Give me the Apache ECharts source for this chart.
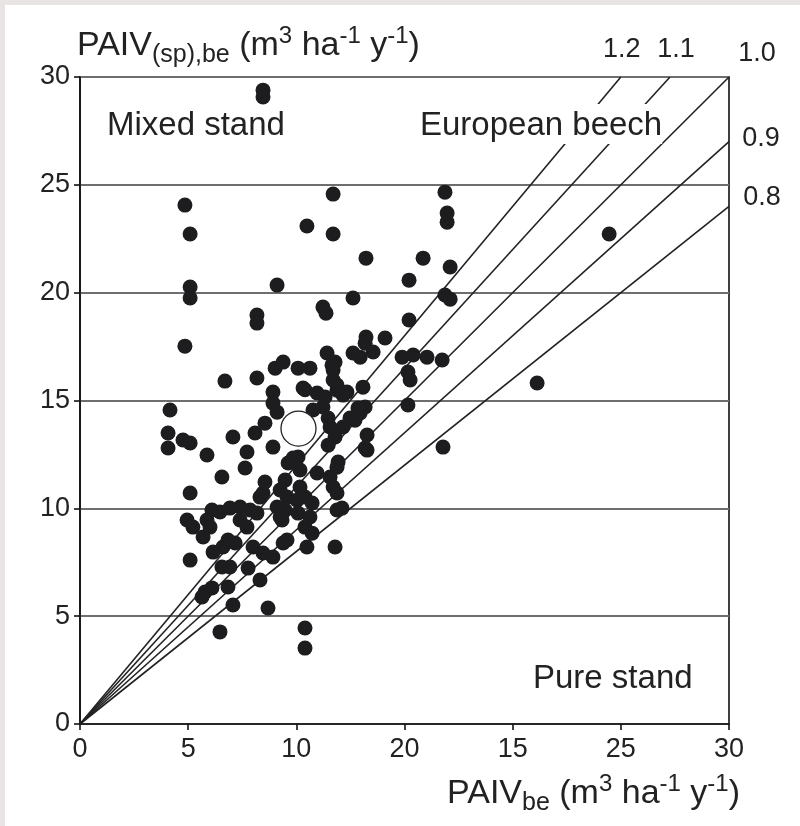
<!DOCTYPE html>
<html>
<head>
<meta charset="utf-8">
<title>PAIV mixed vs pure stand</title>
<script src="https://cdn.jsdelivr.net/npm/echarts@6/dist/echarts.min.js"></script>
<style>
  html, body { margin: 0; padding: 0; background: #ffffff; }
  #chart { width: 800px; height: 826px; }
</style>
</head>
<body>
<div id="chart"></div>
<script>
// tick labels as printed in the figure (x axis has "20" and "15" swapped)
const xTickLabels = ['0', '5', '10', '20', '15', '25', '30'];
const yTickLabels = ['0', '5', '10', '15', '20', '25', '30'];

// reference ratio lines  y = ratio * x
const ratios = [0.8, 0.9, 1.0, 1.1, 1.2];

// PAIV_be (x) vs PAIV_(sp),be (y), one dot per plot
const standPoints = [
  [8.46, 29.39], [8.46, 29.07], [4.85, 24.06], [5.09, 22.72], [5.09, 20.26], [5.09, 19.75],
  [4.85, 17.52], [6.70, 15.90], [8.18, 16.04], [8.18, 18.96], [8.18, 18.59], [9.11, 20.35],
  [10.49, 23.09], [11.70, 24.57], [11.70, 22.72], [11.23, 19.33], [11.37, 19.05], [11.42, 17.20],
  [9.02, 16.50], [9.39, 16.78], [10.08, 16.50], [10.63, 16.50], [8.92, 15.39], [10.31, 15.58],
  [10.96, 15.35], [11.33, 15.16], [11.70, 16.41], [11.70, 15.95], [13.22, 21.60], [15.86, 21.60],
  [16.87, 24.66], [16.97, 23.69], [16.97, 23.27], [17.11, 21.19], [15.21, 20.58], [12.62, 19.75],
  [16.87, 19.89], [17.11, 19.70], [15.21, 18.73], [13.22, 17.94], [13.18, 17.66], [13.55, 17.25],
  [14.10, 17.90], [12.62, 17.20], [12.95, 17.01], [11.79, 16.78], [14.89, 17.01], [15.40, 17.11],
  [16.04, 17.01], [16.74, 16.88], [15.16, 16.32], [15.26, 15.95], [15.16, 14.79], [16.78, 12.84],
  [11.88, 15.48], [12.16, 15.25], [13.08, 15.62], [13.18, 14.70], [12.95, 14.42], [12.71, 14.09],
  [13.27, 13.40], [13.27, 12.70], [21.13, 15.81], [24.46, 22.72], [10.77, 14.56], [11.23, 14.70],
  [11.47, 14.19], [11.56, 13.77], [11.79, 13.31], [11.47, 12.93], [12.85, 14.65], [12.48, 14.19],
  [12.16, 13.77], [13.18, 12.80], [11.93, 12.15], [11.88, 11.91], [9.80, 12.15], [10.08, 12.38],
  [10.17, 11.78], [10.96, 11.64], [9.48, 11.31], [9.57, 10.52], [9.48, 9.92], [9.34, 9.46],
  [10.17, 10.99], [10.03, 10.38], [10.40, 10.52], [10.73, 10.25], [11.56, 11.45], [11.70, 10.99],
  [11.88, 10.71], [11.88, 9.92], [12.11, 10.01], [10.08, 9.78], [10.63, 9.60], [9.57, 8.53],
  [10.40, 9.13], [10.73, 8.85], [10.49, 8.21], [11.79, 8.21], [8.92, 14.88], [9.11, 14.46],
  [4.16, 14.56], [4.07, 13.49], [4.07, 12.80], [4.76, 13.17], [5.09, 13.03], [5.87, 12.47],
  [7.07, 13.31], [8.09, 13.49], [8.55, 13.95], [7.72, 12.61], [7.63, 11.87], [8.92, 12.84],
  [6.56, 11.45], [5.09, 10.71], [9.62, 12.10], [8.55, 11.22], [8.46, 10.71], [8.32, 10.52],
  [9.25, 10.85], [4.95, 9.46], [5.22, 9.13], [5.69, 8.67], [6.10, 9.92], [6.47, 9.83],
  [6.93, 10.01], [7.40, 10.06], [7.86, 9.92], [8.18, 9.78], [5.87, 9.46], [6.01, 9.13],
  [7.40, 9.46], [7.72, 9.13], [9.11, 10.06], [9.25, 9.60], [6.84, 8.53], [7.17, 8.39],
  [6.61, 8.21], [6.15, 7.97], [5.09, 7.60], [8.00, 8.21], [8.46, 7.93], [8.92, 7.74],
  [9.39, 8.39], [6.56, 7.28], [6.93, 7.28], [7.77, 7.23], [5.78, 6.12], [6.10, 6.31],
  [5.64, 5.89], [6.84, 6.35], [8.32, 6.68], [7.07, 5.52], [8.69, 5.38], [6.47, 4.27],
  [10.40, 4.45], [10.40, 3.52], [9.85, 12.33], [10.40, 15.50], [12.34, 15.39], [11.65, 16.64],
  [11.88, 15.72]
];

// mean of all plots (open circle)
const meanPoint = [10.1, 13.7];

const FONT = '"Liberation Sans", Arial, sans-serif';
const ink = '#1d1d20';
const textColor = '#222';

// where each ratio label sits relative to the line end (px)
const labelOffsets = {
  '0.8': [33, -9],
  '0.9': [32, -3],
  '1.0': [28, -23],
  '1.1': [6, -27],
  '1.2': [1, -27]
};

const ratioSeries = ratios.map(function (r) {
  const xEnd = Math.min(30, 30 / r);
  const txt = r.toFixed(1);
  return {
    type: 'line',
    name: txt,
    data: [[0, 0], [xEnd, r * xEnd]],
    symbol: 'none',
    silent: true,
    z: 3,
    lineStyle: { color: '#222', width: 1.6 },
    endLabel: {
      show: true,
      formatter: txt,
      distance: 0,
      align: 'center',
      verticalAlign: 'middle',
      offset: labelOffsets[txt],
      fontFamily: FONT,
      fontSize: 27,
      color: textColor
    }
  };
});

// sub/superscript styles for the axis titles (zrender style names)
const subSup = {
  sub: { fontFamily: FONT, fontSize: 25, fill: textColor, lineHeight: 24, verticalAlign: 'bottom' },
  sup: { fontFamily: FONT, fontSize: 24, fill: textColor, lineHeight: 24, verticalAlign: 'top' }
};

function titleText(pos, text) {
  return Object.assign({
    type: 'text', z: 20, silent: true,
    style: { text: text, fontFamily: FONT, fontSize: 34, lineHeight: 44, fill: textColor, rich: subSup }
  }, pos);
}

function noteText(pos, text, extra) {
  return Object.assign({
    type: 'text', z: 20, silent: true,
    style: Object.assign({ text: text, fontFamily: FONT, fontSize: 33, fill: textColor }, extra || {})
  }, pos);
}

const chart = echarts.init(document.getElementById('chart'));
const option = {
  animation: false,
  backgroundColor: '#ffffff',
  grid: {
    left: 80, right: 71, top: 77, bottom: 102,
    containLabel: false,
    outerBoundsMode: 'none',
    show: true, borderColor: '#111', borderWidth: 1.6, backgroundColor: 'transparent'
  },
  xAxis: {
    type: 'value', min: 0, max: 30, interval: 5,
    axisLine: { show: true, lineStyle: { color: '#111', width: 1.6 } },
    axisTick: { show: true, length: 6, lineStyle: { color: '#111', width: 1.6 } },
    axisLabel: {
      margin: 12, fontFamily: FONT, fontSize: 27, color: textColor,
      formatter: function (v) { return xTickLabels[Math.round(v / 5)]; }
    },
    splitLine: { show: false }
  },
  yAxis: {
    type: 'value', min: 0, max: 30, interval: 5,
    axisLine: { show: true, lineStyle: { color: '#111', width: 1.6 } },
    axisTick: { show: true, length: 6, lineStyle: { color: '#111', width: 1.6 } },
    axisLabel: {
      margin: 10, fontFamily: FONT, fontSize: 27, color: textColor,
      formatter: function (v) { return yTickLabels[Math.round(v / 5)]; }
    },
    splitLine: { show: true, lineStyle: { color: '#6e6e6e', width: 1.8 } }
  },
  graphic: [
    { type: 'rect', shape: { x: 0, y: 0, width: 800, height: 5 }, style: { fill: '#e8e4e4' }, silent: true },
    { type: 'rect', shape: { x: 0, y: 0, width: 5, height: 826 }, style: { fill: '#e8e4e4' }, silent: true },
    titleText({ left: 77, top: 24 }, 'PAIV{sub|(sp),be} (m{sup|3} ha{sup|-1} y{sup|-1})'),
    titleText({ right: 60, top: 772 }, 'PAIV{sub|be} (m{sup|3} ha{sup|-1} y{sup|-1})'),
    noteText({ left: 107, top: 109 }, 'Mixed stand'),
    noteText({ left: 418, top: 104 }, 'European beech',
      { backgroundColor: '#ffffff', lineHeight: 37, padding: [3, 0, 0, 2] }),
    noteText({ left: 533, top: 662 }, 'Pure stand')
  ],
  series: ratioSeries.concat([
    {
      type: 'scatter',
      name: 'plots',
      data: standPoints,
      symbol: 'circle',
      symbolSize: 15,
      z: 5,
      itemStyle: { color: ink, opacity: 1 }
    },
    {
      type: 'scatter',
      name: 'mean',
      data: [meanPoint],
      symbol: 'circle',
      symbolSize: 35,
      z: 6,
      itemStyle: { color: '#ffffff', borderColor: '#222', borderWidth: 1.3, opacity: 1 }
    }
  ])
};
chart.setOption(option);
</script>
</body>
</html>
